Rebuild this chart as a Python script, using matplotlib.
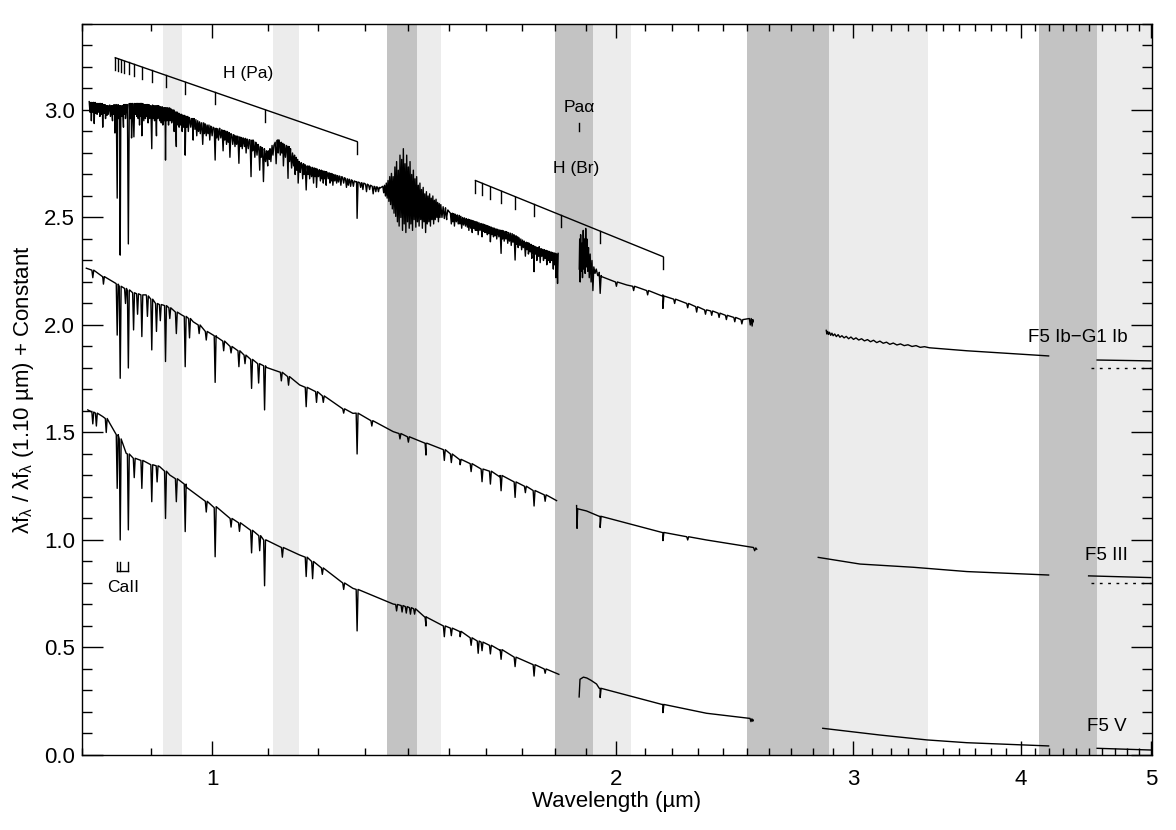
import matplotlib
matplotlib.use('Agg')
import matplotlib.pyplot as plt
import numpy as np
from matplotlib.ticker import FixedLocator, FixedFormatter, MultipleLocator

plt.rcParams['font.family'] = ['Liberation Sans', 'DejaVu Sans']
plt.rcParams['mathtext.fontset'] = 'custom'
plt.rcParams['mathtext.rm'] = 'Liberation Sans'
plt.rcParams['mathtext.it'] = 'Liberation Sans'

# telluric bands (um)
dark_bands = [(1.35, 1.42), (1.80, 1.92), (2.50, 2.88), (4.13, 4.56)]
light_bands = [(0.92, 0.95), (1.11, 1.16), (1.42, 1.48), (1.92, 2.05), (2.88, 3.41), (4.56, 5.05)]

# ---------------- F5 V (offset 0) ----------------
v_segments = [(0.808, 1.812), (1.876, 2.528), (2.849, 4.196), (4.560, 5.0)]
v_lam = [0.808, 0.829, 0.839, 0.846, 0.851, 0.863, 0.883, 0.914, 0.930, 0.957, 1.007, 1.097,
         1.162, 1.273, 1.364, 1.443, 1.529, 1.637, 1.812,
         1.8762, 1.879, 1.890, 1.901, 1.915, 1.933, 1.945, 2.166, 2.334, 2.528,
         2.849, 3.14, 3.406, 3.648, 4.196,
         4.560, 5.0]
v_flux = [1.605, 1.574, 1.543, 1.504, 1.465, 1.403, 1.372, 1.341, 1.302, 1.245, 1.155, 1.0,
          0.930, 0.775, 0.702, 0.643, 0.574, 0.488, 0.375,
          0.27, 0.352, 0.362, 0.358, 0.347, 0.330, 0.31, 0.235, 0.194, 0.163,
          0.124, 0.093, 0.070, 0.057, 0.042,
          0.031, 0.023]
# absorption lines: wavelength, local continuum, line bottom
v_dips = [(0.8150, 1.595, 1.54), (0.8200, 1.59, 1.53), (0.8340, 1.565, 1.50),
          (0.8498, 1.49, 1.24), (0.8542, 1.47, 1.00), (0.8662, 1.40, 1.047),
          (0.8750, 1.38, 1.29), (0.8865, 1.37, 1.24), (0.9017, 1.35, 1.178),
          (0.9100, 1.345, 1.27), (0.9232, 1.32, 1.10), (0.9405, 1.285, 1.178),
          (0.9549, 1.26, 1.039), (0.9900, 1.18, 1.13), (1.0052, 1.15, 0.922),
          (1.0330, 1.10, 1.06), (1.0480, 1.08, 1.04), (1.0700, 1.045, 0.94),
          (1.0850, 1.02, 0.95), (1.0941, 1.00, 0.787), (1.1280, 0.965, 0.92),
          (1.1750, 0.92, 0.83), (1.1880, 0.90, 0.82), (1.2080, 0.87, 0.84),
          (1.2530, 0.80, 0.77), (1.2822, 0.77, 0.577),
          (1.3720, 0.70, 0.67), (1.3850, 0.695, 0.665), (1.3950, 0.69, 0.66),
          (1.4050, 0.685, 0.655), (1.4150, 0.68, 0.655),
          (1.4430, 0.64, 0.60), (1.4890, 0.60, 0.55), (1.5070, 0.59, 0.555),
          (1.5300, 0.575, 0.55), (1.5590, 0.545, 0.51), (1.5780, 0.53, 0.473),
          (1.5885, 0.525, 0.485), (1.6114, 0.51, 0.47), (1.6412, 0.49, 0.445),
          (1.6811, 0.455, 0.411), (1.7367, 0.42, 0.367), (1.7700, 0.40, 0.38),
          (1.9451, 0.31, 0.267), (2.1661, 0.235, 0.197)]
v_spikes = [(2.515, 0.170), (2.519, 0.155), (2.523, 0.168), (2.527, 0.157)]

# ---------------- F5 III (offset 0.8) ----------------
iii_segments = [(0.806, 1.805), (1.868, 2.544), (2.827, 4.196), (4.494, 5.0)]
iii_lam = [0.806, 0.829, 0.848, 0.868, 0.893, 0.919, 0.949, 0.968, 1.007, 1.097, 1.162,
           1.273, 1.364, 1.443, 1.529, 1.637, 1.805,
           1.868, 1.8695, 1.8715, 1.90, 1.945, 2.166, 2.334, 2.544,
           2.827, 3.037, 3.328, 3.648, 4.196,
           4.494, 5.0]
iii_flux = [2.264, 2.225, 2.193, 2.163, 2.140, 2.093, 2.047, 2.015, 1.946, 1.803, 1.721,
            1.589, 1.504, 1.449, 1.372, 1.294, 1.183,
            1.16, 1.054, 1.145, 1.135, 1.11, 1.034, 1.0, 0.957,
            0.919, 0.888, 0.873, 0.853, 0.837,
            0.833, 0.825]
iii_dips = [(0.8150, 2.255, 2.22), (0.8300, 2.225, 2.19), (0.8498, 2.19, 1.953),
            (0.8542, 2.18, 1.752), (0.8620, 2.17, 2.10), (0.8662, 2.16, 1.80),
            (0.8740, 2.15, 1.977), (0.8800, 2.145, 2.05), (0.8865, 2.14, 1.946),
            (0.8950, 2.135, 2.04), (0.9017, 2.12, 1.884), (0.9090, 2.10, 1.97),
            (0.9150, 2.095, 2.02), (0.9232, 2.09, 1.83), (0.9300, 2.08, 2.03),
            (0.9405, 2.06, 1.96), (0.9549, 2.04, 1.806), (0.9620, 2.03, 1.94),
            (0.9780, 2.00, 1.96), (0.9900, 1.97, 1.93), (1.0052, 1.95, 1.733),
            (1.0200, 1.925, 1.88), (1.0330, 1.90, 1.87), (1.0470, 1.88, 1.806),
            (1.0580, 1.86, 1.82), (1.0700, 1.84, 1.705), (1.0830, 1.82, 1.73),
            (1.0941, 1.81, 1.605), (1.1260, 1.78, 1.74), (1.1400, 1.76, 1.72),
            (1.1750, 1.71, 1.62), (1.1960, 1.69, 1.64), (1.2100, 1.67, 1.64),
            (1.2530, 1.61, 1.59), (1.2822, 1.59, 1.40), (1.3150, 1.555, 1.53),
            (1.3800, 1.495, 1.47), (1.4000, 1.48, 1.455), (1.4430, 1.45, 1.395),
            (1.4890, 1.42, 1.37), (1.5070, 1.40, 1.36), (1.5300, 1.375, 1.35),
            (1.5590, 1.355, 1.318), (1.5885, 1.33, 1.271), (1.6114, 1.32, 1.26),
            (1.6412, 1.30, 1.229), (1.6811, 1.27, 1.198), (1.7110, 1.25, 1.22),
            (1.7367, 1.23, 1.158), (1.7700, 1.21, 1.18),
            (1.9451, 1.11, 1.058), (2.1661, 1.035, 0.997), (2.2600, 1.015, 1.00)]
iii_spikes = [(2.530, 0.965), (2.535, 0.950), (2.540, 0.963)]

# ---------------- F5 Ib-G1 Ib (offset 1.8) ----------------
ib_segments = [(0.810, 1.810), (1.876, 2.528), (2.866, 4.196), (4.560, 5.0)]
ib_lam = [0.810, 0.839, 0.878, 0.903, 0.930, 0.968, 1.013, 1.073, 1.100, 1.120, 1.140,
          1.162, 1.216, 1.281, 1.333, 1.500, 1.529, 1.563, 1.656, 1.752, 1.810,
          1.950, 2.036, 2.166, 2.335, 2.528,
          3.648, 4.196,
          4.560, 5.0]
ib_flux = [3.039, 3.023, 3.030, 3.023, 3.008, 2.960, 2.915, 2.860, 2.800, 2.860, 2.830,
           2.752, 2.713, 2.667, 2.636, 2.530, 2.504, 2.480, 2.434, 2.364, 2.333,
           2.225, 2.186, 2.140, 2.070, 2.015,
           1.880, 1.856,
           1.837, 1.833]
ib_dips = [(0.8110, 3.035, 2.99), (0.8130, 3.03, 2.95), (0.8150, 3.035, 2.99),
           (0.8170, 3.035, 2.937), (0.8190, 3.03, 2.985), (0.8210, 3.03, 2.98),
           (0.8230, 3.03, 2.99), (0.8250, 3.03, 2.97), (0.8270, 3.03, 2.98),
           (0.8290, 3.025, 2.92), (0.8310, 3.025, 2.985), (0.8330, 3.02, 2.96),
           (0.8350, 3.02, 2.975), (0.8370, 3.02, 2.98), (0.8400, 3.02, 2.97),
           (0.8430, 3.02, 2.95), (0.8445, 3.02, 2.98), (0.8465, 3.025, 2.893),
           (0.8498, 3.025, 2.59), (0.8520, 3.02, 2.96), (0.8542, 3.02, 2.325),
           (0.8565, 3.02, 2.97), (0.8590, 3.02, 2.92), (0.8605, 3.025, 2.98),
           (0.8620, 3.025, 2.96), (0.8662, 3.025, 2.377), (0.8690, 3.03, 2.96),
           (0.8710, 3.03, 2.87), (0.8745, 3.03, 2.875), (0.8770, 3.03, 2.98),
           (0.8790, 3.03, 2.97), (0.8810, 3.03, 2.96), (0.8830, 3.03, 2.93),
           (0.8850, 3.03, 2.97), (0.8865, 3.03, 2.88), (0.8895, 3.025, 2.95),
           (0.8920, 3.025, 2.96), (0.8940, 3.025, 2.97), (0.8960, 3.025, 2.94),
           (0.8985, 3.02, 2.96), (0.9017, 3.02, 2.82), (0.9040, 3.02, 2.96),
           (0.9060, 3.02, 2.95), (0.9090, 3.02, 2.88), (0.9110, 3.02, 2.96),
           (0.9140, 3.015, 2.95), (0.9165, 3.015, 2.94), (0.9190, 3.01, 2.93),
           (0.9210, 3.01, 2.95), (0.9232, 3.01, 2.767), (0.9255, 3.01, 2.95),
           (0.9280, 3.01, 2.93), (0.9305, 3.005, 2.95), (0.9330, 3.00, 2.94),
           (0.9350, 3.00, 2.95), (0.9370, 2.99, 2.90), (0.9390, 2.99, 2.94),
           (0.9405, 2.99, 2.83), (0.9430, 2.985, 2.93), (0.9450, 2.98, 2.92),
           (0.9475, 2.98, 2.93), (0.9500, 2.975, 2.90), (0.9525, 2.975, 2.92),
           (0.9549, 2.97, 2.79), (0.9575, 2.97, 2.92), (0.9600, 2.965, 2.90),
           (0.9640, 2.96, 2.92), (0.9680, 2.96, 2.86), (0.9710, 2.955, 2.91),
           (0.9740, 2.95, 2.88), (0.9770, 2.945, 2.90), (0.9800, 2.94, 2.89),
           (0.9840, 2.94, 2.84), (0.9870, 2.935, 2.89), (0.9900, 2.93, 2.88),
           (0.9930, 2.93, 2.89), (0.9960, 2.925, 2.86), (1.0000, 2.92, 2.88),
           (1.0052, 2.915, 2.767), (1.0080, 2.913, 2.87), (1.0110, 2.91, 2.86),
           (1.0150, 2.908, 2.87), (1.0190, 2.905, 2.81), (1.0220, 2.902, 2.86),
           (1.0250, 2.90, 2.84), (1.0280, 2.895, 2.85), (1.0310, 2.89, 2.78),
           (1.0360, 2.885, 2.84), (1.0400, 2.88, 2.83), (1.0430, 2.878, 2.84),
           (1.0470, 2.875, 2.752), (1.0500, 2.872, 2.83), (1.0530, 2.87, 2.82),
           (1.0570, 2.868, 2.83), (1.0600, 2.865, 2.80), (1.0640, 2.862, 2.82),
           (1.0690, 2.86, 2.69), (1.0720, 2.855, 2.81), (1.0760, 2.85, 2.78),
           (1.0800, 2.84, 2.79), (1.0850, 2.83, 2.72), (1.0880, 2.825, 2.78),
           (1.0920, 2.82, 2.667), (1.0960, 2.81, 2.76), (1.1000, 2.80, 2.74),
           (1.1030, 2.81, 2.77), (1.1060, 2.82, 2.76), (1.1100, 2.835, 2.79),
           (1.1160, 2.85, 2.75), (1.1200, 2.86, 2.80), (1.1240, 2.85, 2.79),
           (1.1270, 2.845, 2.80), (1.1300, 2.84, 2.74), (1.1340, 2.835, 2.78),
           (1.1390, 2.83, 2.682), (1.1420, 2.82, 2.76), (1.1460, 2.80, 2.73),
           (1.1500, 2.79, 2.74), (1.1530, 2.78, 2.70), (1.1560, 2.77, 2.72),
           (1.1590, 2.76, 2.66), (1.1630, 2.755, 2.71), (1.1680, 2.75, 2.68),
           (1.1710, 2.745, 2.70), (1.1750, 2.74, 2.628), (1.1790, 2.74, 2.70),
           (1.1820, 2.735, 2.68), (1.1860, 2.733, 2.69), (1.1900, 2.73, 2.66),
           (1.1930, 2.728, 2.69), (1.1960, 2.725, 2.64), (1.2000, 2.722, 2.69),
           (1.2040, 2.72, 2.67), (1.2070, 2.717, 2.68), (1.2100, 2.715, 2.66),
           (1.2130, 2.713, 2.68), (1.2160, 2.71, 2.65), (1.2200, 2.708, 2.68),
           (1.2240, 2.705, 2.66), (1.2270, 2.703, 2.67), (1.2300, 2.70, 2.65),
           (1.2340, 2.698, 2.67), (1.2380, 2.695, 2.66), (1.2420, 2.693, 2.665),
           (1.2470, 2.69, 2.65), (1.2530, 2.685, 2.66), (1.2590, 2.68, 2.64),
           (1.2630, 2.678, 2.65), (1.2680, 2.675, 2.645), (1.2740, 2.67, 2.645),
           (1.2822, 2.665, 2.496), (1.2900, 2.662, 2.64), (1.2950, 2.66, 2.63),
           (1.3030, 2.655, 2.62), (1.3100, 2.65, 2.63), (1.3180, 2.645, 2.61),
           (1.3240, 2.643, 2.62), (1.3300, 2.64, 2.62),
           (1.4950, 2.53, 2.49), (1.5070, 2.52, 2.47), (1.5110, 2.518, 2.48),
           (1.5150, 2.515, 2.46), (1.5200, 2.512, 2.48), (1.5250, 2.51, 2.47),
           (1.5295, 2.505, 2.47), (1.5340, 2.50, 2.45), (1.5390, 2.498, 2.465),
           (1.5440, 2.495, 2.46), (1.5490, 2.492, 2.455), (1.5530, 2.49, 2.44),
           (1.5580, 2.487, 2.45), (1.5620, 2.485, 2.43), (1.5660, 2.482, 2.45),
           (1.5705, 2.48, 2.44), (1.5740, 2.478, 2.44), (1.5780, 2.475, 2.42),
           (1.5830, 2.472, 2.44), (1.5885, 2.47, 2.41), (1.5920, 2.467, 2.435),
           (1.5960, 2.465, 2.43), (1.6000, 2.462, 2.43), (1.6030, 2.46, 2.42),
           (1.6070, 2.458, 2.425), (1.6114, 2.455, 2.387), (1.6160, 2.452, 2.42),
           (1.6200, 2.45, 2.41), (1.6245, 2.447, 2.415), (1.6290, 2.445, 2.40),
           (1.6350, 2.442, 2.41), (1.6412, 2.44, 2.333), (1.6455, 2.438, 2.40),
           (1.6500, 2.435, 2.39), (1.6550, 2.432, 2.40), (1.6600, 2.43, 2.38),
           (1.6650, 2.427, 2.39), (1.6700, 2.425, 2.37), (1.6750, 2.42, 2.385),
           (1.6811, 2.415, 2.302), (1.6860, 2.41, 2.375), (1.6900, 2.405, 2.36),
           (1.6950, 2.40, 2.37), (1.7000, 2.395, 2.35), (1.7050, 2.39, 2.36),
           (1.7110, 2.385, 2.32), (1.7160, 2.383, 2.35), (1.7200, 2.38, 2.33),
           (1.7250, 2.375, 2.34), (1.7300, 2.37, 2.31), (1.7330, 2.368, 2.335),
           (1.7367, 2.365, 2.248), (1.7410, 2.362, 2.33), (1.7450, 2.36, 2.30),
           (1.7500, 2.357, 2.32), (1.7550, 2.355, 2.29), (1.7600, 2.352, 2.32),
           (1.7650, 2.35, 2.30), (1.7700, 2.347, 2.31), (1.7750, 2.345, 2.28),
           (1.7800, 2.342, 2.30), (1.7850, 2.34, 2.29), (1.7900, 2.337, 2.30),
           (1.7950, 2.335, 2.26), (1.7990, 2.333, 2.28), (1.8030, 2.33, 2.22),
           (1.8080, 2.33, 2.193),
           (1.9451, 2.23, 2.147), (2.0000, 2.20, 2.18), (2.0600, 2.18, 2.16),
           (2.1100, 2.16, 2.14), (2.1661, 2.135, 2.077), (2.2100, 2.12, 2.10),
           (2.2600, 2.10, 2.08), (2.2950, 2.085, 2.06), (2.3300, 2.07, 2.05),
           (2.3550, 2.065, 2.045), (2.3850, 2.055, 2.035), (2.4150, 2.045, 2.025),
           (2.4500, 2.035, 2.015), (2.4800, 2.025, 2.005)]
# noisy telluric residuals (wavelength, flux)
ib_spikes = [(1.340, 2.645), (1.342, 2.615), (1.344, 2.650), (1.346, 2.600), (1.348, 2.660),
             (1.350, 2.590), (1.352, 2.672), (1.354, 2.575), (1.356, 2.690), (1.358, 2.560),
             (1.360, 2.705), (1.362, 2.540), (1.364, 2.690), (1.366, 2.520), (1.368, 2.735),
             (1.370, 2.505), (1.372, 2.760), (1.374, 2.480), (1.376, 2.720), (1.378, 2.460),
             (1.380, 2.790), (1.382, 2.500), (1.384, 2.770), (1.386, 2.440), (1.388, 2.820),
             (1.390, 2.470), (1.392, 2.750), (1.394, 2.430), (1.396, 2.790), (1.398, 2.480),
             (1.400, 2.735), (1.402, 2.450), (1.404, 2.760), (1.406, 2.470), (1.408, 2.700),
             (1.410, 2.440), (1.412, 2.720), (1.414, 2.490), (1.416, 2.680), (1.418, 2.455),
             (1.420, 2.690), (1.422, 2.480), (1.424, 2.650), (1.426, 2.460), (1.428, 2.660),
             (1.430, 2.490), (1.432, 2.630), (1.434, 2.450), (1.436, 2.640), (1.438, 2.480),
             (1.440, 2.610), (1.442, 2.430), (1.444, 2.620), (1.446, 2.470), (1.448, 2.600),
             (1.450, 2.480), (1.452, 2.610), (1.454, 2.460), (1.456, 2.590), (1.458, 2.490),
             (1.460, 2.600), (1.462, 2.470), (1.464, 2.580), (1.466, 2.490), (1.468, 2.585),
             (1.470, 2.500), (1.472, 2.570), (1.474, 2.480), (1.476, 2.565), (1.478, 2.500),
             (1.480, 2.560), (1.483, 2.500), (1.486, 2.550), (1.489, 2.495), (1.492, 2.545),
             (1.495, 2.500), (1.498, 2.535),
             (1.8765, 2.26), (1.8780, 2.40), (1.8795, 2.20), (1.8810, 2.42), (1.8830, 2.25),
             (1.8850, 2.38), (1.8870, 2.22), (1.8895, 2.44), (1.8915, 2.26), (1.8935, 2.40),
             (1.8955, 2.24), (1.8975, 2.449), (1.8995, 2.27), (1.9015, 2.40), (1.9040, 2.25),
             (1.9065, 2.36), (1.9090, 2.22), (1.9120, 2.33), (1.9150, 2.20), (1.9180, 2.30),
             (1.9210, 2.16), (1.9240, 2.27), (1.9280, 2.24), (1.9320, 2.26), (1.9370, 2.23),
             (1.9420, 2.245),
             (2.512, 2.03), (2.516, 2.00), (2.520, 2.03), (2.524, 1.995), (2.527, 2.025),
             (2.866, 1.975), (2.869, 1.958), (2.873, 1.970), (2.877, 1.956), (2.882, 1.966),
             (2.888, 1.952), (2.894, 1.962), (2.900, 1.950), (2.908, 1.958), (2.916, 1.946),
             (2.925, 1.955), (2.934, 1.943), (2.944, 1.950), (2.955, 1.940), (2.966, 1.947),
             (2.978, 1.936), (2.990, 1.944), (3.003, 1.933), (3.016, 1.940), (3.030, 1.930),
             (3.045, 1.936), (3.060, 1.926), (3.076, 1.932), (3.092, 1.922), (3.108, 1.929),
             (3.125, 1.918), (3.142, 1.925), (3.160, 1.915), (3.178, 1.920), (3.196, 1.910),
             (3.215, 1.916), (3.235, 1.907), (3.255, 1.912), (3.276, 1.904), (3.297, 1.908),
             (3.320, 1.900), (3.343, 1.904), (3.367, 1.896), (3.392, 1.899), (3.420, 1.894)]

# hydrogen series markers
pa_lines = [1.2822, 1.0941, 1.0052, 0.9549, 0.9232, 0.9017, 0.8865, 0.8753, 0.8667,
            0.8601, 0.8548, 0.8505, 0.8470]
br_lines = [2.1661, 1.9451, 1.8181, 1.7367, 1.6811, 1.6412, 1.6114, 1.5885, 1.5705]
pa_alpha = 1.8756
ca_lines = [0.8498, 0.8542, 0.8662]


def build(lam, flux, dips, spikes):
    pts = list(zip(lam, flux)) + list(spikes)
    for l, top, bot in dips:
        w = 0.0016 * l
        pts += [(l - w, top), (l, bot), (l + w, top)]
    pts.sort()
    return np.array(pts)


fig = plt.figure(figsize=(11.76, 8.30), dpi=100)
ax = fig.add_axes([0.0697, 0.0904, 0.9099, 0.8807])

for a, b in dark_bands:
    ax.axvspan(a, b, color='#c3c3c3', lw=0, zorder=0)
for a, b in light_bands:
    ax.axvspan(a, b, color='#ececec', lw=0, zorder=0)

for lam, flux, dips, spikes, segs in [
        (v_lam, v_flux, v_dips, v_spikes, v_segments),
        (iii_lam, iii_flux, iii_dips, iii_spikes, iii_segments),
        (ib_lam, ib_flux, ib_dips, ib_spikes, ib_segments)]:
    sp = build(lam, flux, dips, spikes)
    for a, b in segs:
        m = (sp[:, 0] >= a - 1e-6) & (sp[:, 0] <= b + 1e-6)
        ax.plot(sp[m, 0], sp[m, 1], color='black', lw=1.0, zorder=3)

# zero levels of the offset spectra
ax.plot([4.51, 5.0], [1.8, 1.8], color='black', lw=1.0, ls=(0, (2, 4)), zorder=3)
ax.plot([4.51, 5.0], [0.8, 0.8], color='black', lw=1.0, ls=(0, (2, 4)), zorder=3)

# Paschen series
tick = 0.056
pa_x = [min(pa_lines), max(pa_lines)]
pa_y = [3.243, 2.853]
ax.plot(pa_x, pa_y, color='black', lw=1.0)
for l in pa_lines:
    yt = np.interp(np.log10(l), np.log10(pa_x), pa_y)
    ax.plot([l, l], [yt, yt - tick], color='black', lw=1.0)
ax.text(1.063, 3.17, 'H (Pa)', ha='center', va='center', fontsize=12.5)

# Brackett series
br_x = [min(br_lines), max(br_lines)]
br_y = [2.672, 2.318]
ax.plot(br_x, br_y, color='black', lw=1.0)
for l in br_lines:
    yt = np.interp(np.log10(l), np.log10(br_x), br_y)
    ax.plot([l, l], [yt, yt - tick], color='black', lw=1.0)
ax.text(1.868, 2.73, 'H (Br)', ha='center', va='center', fontsize=12.5)

ax.plot([pa_alpha, pa_alpha], [2.90, 2.94], color='black', lw=1.0)
ax.text(pa_alpha, 3.01, 'Paα', ha='center', va='center', fontsize=12.5)

# Ca II triplet
ax.plot([ca_lines[0], ca_lines[-1]], [0.857, 0.857], color='black', lw=1.0)
for l in ca_lines:
    ax.plot([l, l], [0.857, 0.899], color='black', lw=1.0)
ax.text(0.858, 0.78, 'CaII', ha='center', va='center', fontsize=12.5)

ax.text(4.808, 1.94, 'F5 Ib−G1 Ib', ha='right', va='center', fontsize=13.5)
ax.text(4.808, 0.93, 'F5 III', ha='right', va='center', fontsize=13.5)
ax.text(4.80, 0.132, 'F5 V', ha='right', va='center', fontsize=13.5)

ax.set_xscale('log')
ax.set_xlim(0.80, 5.01)
ax.set_ylim(0.0, 3.4)
ax.xaxis.set_major_locator(FixedLocator([1, 2, 3, 4, 5]))
ax.xaxis.set_major_formatter(FixedFormatter(['1', '2', '3', '4', '5']))
ax.xaxis.set_minor_locator(FixedLocator(np.arange(8, 51) / 10))
ax.xaxis.set_minor_formatter(FixedFormatter([]))
ax.yaxis.set_major_locator(MultipleLocator(0.5))
ax.yaxis.set_minor_locator(MultipleLocator(0.1))
ax.yaxis.set_major_formatter(matplotlib.ticker.FormatStrFormatter('%.1f'))

ax.tick_params(which='both', direction='in', top=True, right=True, width=1.0,
               labelsize=16)
ax.tick_params(axis='y', which='major', length=15, pad=5)
ax.tick_params(axis='y', which='minor', length=7.5)
ax.tick_params(axis='x', which='major', length=10, pad=10)
ax.tick_params(axis='x', which='minor', length=5)
for s in ax.spines.values():
    s.set_linewidth(1.0)

ax.set_xlabel('Wavelength (µm)', fontsize=16, labelpad=1)
ax.set_ylabel(r'λf$_{\mathregular{λ}}$ / λf$_{\mathregular{λ}}$ (1.10 µm) + Constant',
              fontsize=16, labelpad=6)

fig.savefig('out.png', dpi=100)
